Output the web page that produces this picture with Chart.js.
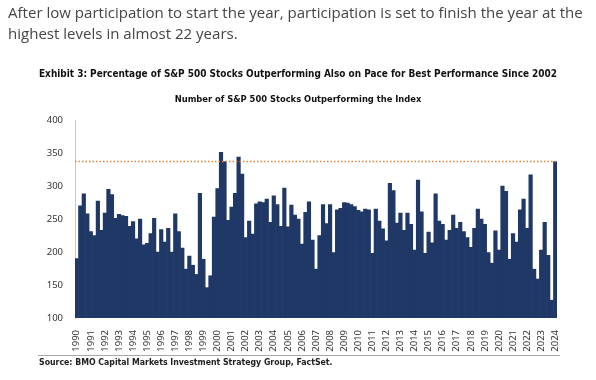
<!DOCTYPE html>
<html>
<head>
<meta charset="utf-8">
<script src="https://cdn.jsdelivr.net/npm/chart.js@4.4.1/dist/chart.umd.min.js"></script>
<style>
  html, body { margin: 0; padding: 0; background: #fff; }
  #wrap { position: relative; width: 596px; height: 380px; overflow: hidden; }
  #intro { position: absolute; left: 8px; top: 2px; font-family: 'Open Sans', sans-serif; color: #454545; line-height: 21px; white-space: nowrap; }
  #rule { position: absolute; left: 38px; top: 355px; width: 522px; border-top: 1px solid #a8a8a8; }
  #source { position: absolute; left: 39px; top: 357px; font-weight: 600; color: #222; white-space: nowrap; }
  canvas { position: absolute; left: 0; top: 0; }
</style>
</head>
<body>
<div id="wrap">
  <canvas id="bar-chart" width="596" height="380"></canvas>
  <div id="intro">After low participation to start the year, participation is set to finish the year at the<br>highest levels in almost 22 years.</div>
  <div id="rule"></div>
  <div id="source">Source: BMO Capital Markets Investment Strategy Group, FactSet.</div>
</div>
<script>
const years = [1990, 1991, 1992, 1993, 1994, 1995, 1996, 1997, 1998, 1999,
  2000, 2001, 2002, 2003, 2004, 2005, 2006, 2007, 2008, 2009,
  2010, 2011, 2012, 2013, 2014, 2015, 2016, 2017, 2018, 2019,
  2020, 2021, 2022, 2023, 2024];

// quarterly counts, 1990 Q1 .. 2024 Q1
const counts = [
  190, 270, 288, 258,  231, 225, 277, 233,  259, 295, 287, 251,  257, 255, 254, 239,
  246, 220, 250, 211,  213, 228, 251, 200,  234, 215, 236, 200,  258, 231, 206, 174,
  194, 180, 166, 289,  189, 146, 164, 253,  296, 351, 337, 248,  268, 289, 344, 318,
  222, 247, 227, 273,  276, 275, 280, 245,  285, 272, 239, 297,  238, 271, 256, 250,
  212, 260, 276, 218,  174, 225, 272, 243,  272, 199, 264, 266,  275, 274, 272, 269,
  263, 261, 265, 264,  198, 265, 247, 235,  217, 304, 293, 244,  259, 233, 259, 242,
  203, 309, 261, 198,  230, 214, 288, 247,  242, 218, 233, 256,  236, 245, 231, 222,
  207, 236, 265, 250,  242, 199, 183, 232,  203, 300, 292, 189,  228, 215, 264, 280,
  236, 317, 174, 159,  203, 245, 195, 127,  337
];

const paceLevel = 338;
const yTicks = [100, 150, 200, 250, 300, 350, 400];

const titleText = 'Exhibit 3: Percentage of S&P 500 Stocks Outperforming Also on Pace for Best Performance Since 2002';
const subText = 'Number of S&P 500 Stocks Outperforming the Index';

const narrow = "'Liberation Sans Narrow', 'DejaVu Sans Condensed', 'Liberation Sans', sans-serif";

function fitSize(text, weight, family, width) {
  const ctx = document.createElement('canvas').getContext('2d');
  ctx.font = weight + ' 20px ' + family;
  return 20 * width / ctx.measureText(text).width;
}

// size the texts to the widths in the picture
const introSize = fitSize('After low participation to start the year, participation is set to finish the year at the', '400', "'Open Sans'", 575);
document.getElementById('intro').style.fontSize = introSize + 'px';
const src = document.getElementById('source');
src.style.fontFamily = narrow;
src.style.fontSize = fitSize(src.textContent, '600', narrow, 294) + 'px';

const titleSize = fitSize(titleText, 'bold', narrow, 523);
const subSize = fitSize(subText, 'bold', narrow, 247);
const padTop = 74.5 - titleSize * 0.6;
const titleGap = 99.5 - (padTop + titleSize * 1.2) - subSize * 0.6;
const subGap = 120 - 99.5 - subSize * 0.6;

const quarters = years.flatMap(y => ['Q1', 'Q2', 'Q3', 'Q4'].map(q => y + ' ' + q)).slice(0, counts.length);

const paceLine = {
  id: 'paceLine',
  afterDatasetsDraw(chart) {
    const { ctx, chartArea, scales } = chart;
    const y = Math.round(scales.y.getPixelForValue(paceLevel)) + 0.5;
    ctx.save();
    ctx.strokeStyle = '#e8823a';
    ctx.lineWidth = 1.5;
    ctx.setLineDash([1.5, 2]);
    ctx.beginPath();
    ctx.moveTo(chartArea.left, y);
    ctx.lineTo(chartArea.right, y);
    ctx.stroke();
    ctx.restore();
  }
};

new Chart(document.getElementById('bar-chart'), {
  type: 'bar',
  data: {
    labels: quarters,
    datasets: [{
      data: counts,
      backgroundColor: '#1f3866',
      borderWidth: 0,
      barPercentage: 1,
      categoryPercentage: 1
    }]
  },
  options: {
    responsive: false,
    animation: false,
    layout: { padding: { top: padTop, left: 39, right: 39, bottom: 0 } },
    plugins: {
      legend: { display: false },
      tooltip: { enabled: false },
      title: {
        display: true,
        text: titleText,
        color: '#111',
        font: { family: narrow, size: titleSize, weight: 'bold' },
        padding: { top: 0, bottom: titleGap }
      },
      subtitle: {
        display: true,
        text: subText,
        color: '#111',
        font: { family: narrow, size: subSize, weight: 'bold' },
        padding: { top: 0, bottom: subGap }
      }
    },
    scales: {
      x: {
        grid: { display: false },
        border: { display: false },
        ticks: {
          autoSkip: false,
          maxRotation: 90,
          minRotation: 90,
          padding: 4,
          color: '#333',
          font: { family: "'Noto Sans'", size: 9.5 },
          callback: (value, index) => index % 4 === 0 ? String(years[index / 4]) : ''
        },
        afterFit: (scale) => { scale.height = 62; }
      },
      y: {
        min: 100,
        max: 400,
        grid: { display: false, drawTicks: false },
        border: { display: true, color: '#c8c8c8' },
        afterBuildTicks: (scale) => { scale.ticks = yTicks.map(v => ({ value: v })); },
        ticks: {
          padding: 12,
          color: '#333',
          font: { family: "'Noto Sans'", size: 9.5 }
        },
        afterFit: (scale) => { scale.width = 36; }
      }
    }
  },
  plugins: [paceLine]
});
</script>
</body>
</html>
